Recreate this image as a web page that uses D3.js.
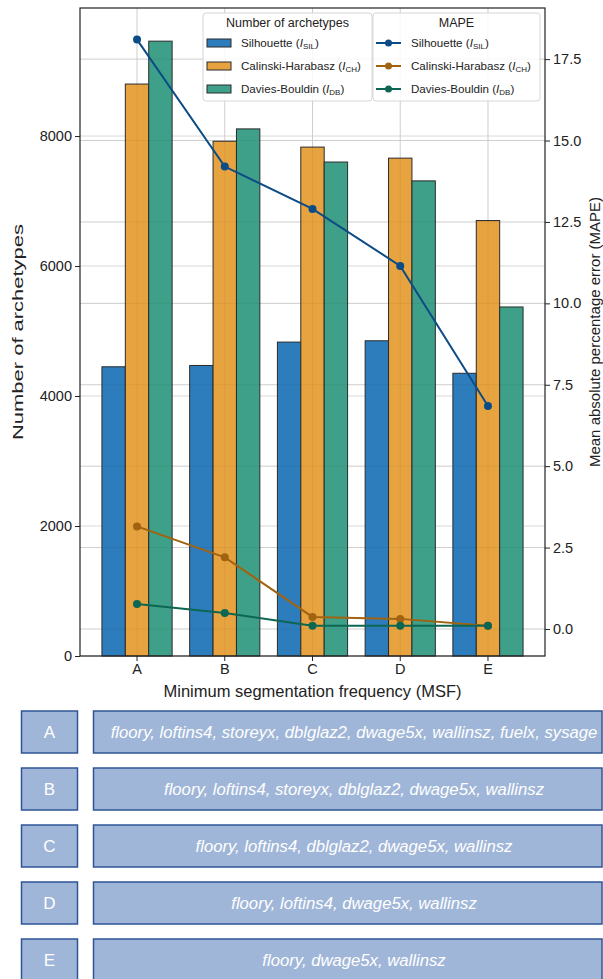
<!DOCTYPE html>
<html>
<head>
<meta charset="utf-8">
<script src="https://cdn.jsdelivr.net/npm/d3@7"></script>
<style>
  html, body { margin: 0; padding: 0; background: #fff; }
  svg { display: block; font-family: "Liberation Sans", Arial, Helvetica, sans-serif; }
</style>
</head>
<body>
<svg id="chart" width="603" height="979"></svg>
<script>
// Minimum segmentation frequency levels
const categories = ["A", "B", "C", "D", "E"];

// Number of archetypes per clustering index
const archSIL = [4450, 4470, 4830, 4850, 4350];
const archCH  = [8800, 7920, 7830, 7660, 6700];
const archDB  = [9460, 8110, 7600, 7310, 5370];

// Mean absolute percentage error per clustering index
const mapeSIL = [18.1, 14.2, 12.9, 11.15, 6.85];
const mapeCH  = [3.15, 2.2, 0.37, 0.31, 0.1];
const mapeDB  = [0.77, 0.49, 0.1, 0.1, 0.1];

const leftTicks  = [0, 2000, 4000, 6000, 8000];
const rightTicks = [0, 2.5, 5, 7.5, 10, 12.5, 15, 17.5];

// Variable sets retained at each level
const varSets = [
  "floory, loftins4, storeyx, dblglaz2, dwage5x, wallinsz, fuelx, sysage",
  "floory, loftins4, storeyx, dblglaz2, dwage5x, wallinsz",
  "floory, loftins4, dblglaz2, dwage5x, wallinsz",
  "floory, loftins4, dwage5x, wallinsz",
  "floory, dwage5x, wallinsz"
];

const seriesKeys = ["SIL", "CH", "DB"];
const seriesNames = { SIL: "Silhouette", CH: "Calinski-Harabasz", DB: "Davies-Bouldin" };
const barColor  = { SIL: "#2d7dbc", CH: "#e7a33f", DB: "#3ea088" };
const lineColor = { SIL: "#0b4c86", CH: "#a1630f", DB: "#0c6652" };
const archData = { SIL: archSIL, CH: archCH, DB: archDB };
const mapeData = { SIL: mapeSIL, CH: mapeCH, DB: mapeDB };

const svg = d3.select("#chart");
const plot = { left: 80, right: 545, top: 8, bottom: 656 };

const x = d3.scaleBand().domain(categories)
  .range([plot.left, plot.right]).paddingInner(0).paddingOuter(0.15);
const xSub = d3.scaleBand().domain(seriesKeys)
  .range([x.bandwidth() * 0.1, x.bandwidth() * 0.9]);
const yL = d3.scaleLinear().domain([0, 9970]).range([plot.bottom, plot.top]);
const yR = d3.scaleLinear().domain([-0.83, 19.07]).range([plot.bottom, plot.top]);
const cx = c => x(c) + x.bandwidth() / 2;

// Grid
const grid = svg.append("g").attr("stroke", "#d9d9d9").attr("stroke-width", 1);
categories.forEach(c => grid.append("line")
  .attr("x1", cx(c)).attr("x2", cx(c)).attr("y1", plot.top).attr("y2", plot.bottom));
leftTicks.forEach(t => grid.append("line")
  .attr("x1", plot.left).attr("x2", plot.right).attr("y1", yL(t)).attr("y2", yL(t)));
rightTicks.forEach(t => grid.append("line")
  .attr("x1", plot.left).attr("x2", plot.right).attr("y1", yR(t)).attr("y2", yR(t)));

// Bars
const bars = svg.append("g");
seriesKeys.forEach(k => {
  bars.selectAll(null).data(categories).enter().append("rect")
    .attr("x", c => x(c) + xSub(k))
    .attr("width", xSub.bandwidth())
    .attr("y", (c, i) => yL(archData[k][i]))
    .attr("height", (c, i) => yL(0) - yL(archData[k][i]))
    .attr("fill", barColor[k])
    .attr("stroke", "#2b2b2b").attr("stroke-width", 1);
});

// Grid lines faintly visible through the bars
const gridOver = svg.append("g").attr("stroke", "#000").attr("stroke-opacity", 0.05).attr("stroke-width", 1);
categories.forEach(c => gridOver.append("line")
  .attr("x1", cx(c)).attr("x2", cx(c)).attr("y1", plot.top).attr("y2", plot.bottom));
rightTicks.forEach(t => gridOver.append("line")
  .attr("x1", plot.left).attr("x2", plot.right).attr("y1", yR(t)).attr("y2", yR(t)));

// MAPE lines
const lineGen = d3.line().x(d => cx(d.c)).y(d => yR(d.v));
seriesKeys.forEach(k => {
  const pts = categories.map((c, i) => ({ c, v: mapeData[k][i] }));
  svg.append("path").datum(pts).attr("d", lineGen)
    .attr("fill", "none").attr("stroke", lineColor[k]).attr("stroke-width", 2);
  svg.selectAll(null).data(pts).enter().append("circle")
    .attr("cx", d => cx(d.c)).attr("cy", d => yR(d.v)).attr("r", 4)
    .attr("fill", lineColor[k]);
});

// Frame
svg.append("rect").attr("x", plot.left).attr("y", plot.top)
  .attr("width", plot.right - plot.left).attr("height", plot.bottom - plot.top)
  .attr("fill", "none").attr("stroke", "#222").attr("stroke-width", 1.2);

// Axes
const axL = svg.append("g").attr("transform", `translate(${plot.left},0)`)
  .call(d3.axisLeft(yL).tickValues(leftTicks).tickFormat(d3.format("d")).tickSize(5).tickPadding(3));
const axR = svg.append("g").attr("transform", `translate(${plot.right},0)`)
  .call(d3.axisRight(yR).tickValues(rightTicks).tickFormat(d3.format(".1f")).tickSize(5).tickPadding(3));
const axB = svg.append("g").attr("transform", `translate(0,${plot.bottom})`)
  .call(d3.axisBottom(x).tickSize(5).tickPadding(3));
[axL, axR, axB].forEach(a => {
  a.select(".domain").remove();
  a.selectAll("line").attr("stroke", "#222");
  a.selectAll("text").attr("font-size", 14.5).attr("fill", "#222")
    .attr("font-family", "Liberation Sans, Arial, sans-serif");
});

// Axis titles
svg.append("text").attr("x", (plot.left + plot.right) / 2).attr("y", 697)
  .attr("text-anchor", "middle").attr("font-size", 16.5).attr("fill", "#222")
  .text("Minimum segmentation frequency (MSF)");
svg.append("text").attr("transform", `translate(23,${(plot.top + plot.bottom) / 2}) rotate(-90)`)
  .attr("text-anchor", "middle").attr("font-size", 15.5).attr("fill", "#222")
  .attr("textLength", 216).attr("lengthAdjust", "spacingAndGlyphs")
  .text("Number of archetypes");
svg.append("text").attr("transform", `translate(600,${(plot.top + plot.bottom) / 2}) rotate(-90)`)
  .attr("text-anchor", "middle").attr("font-size", 15).attr("fill", "#222")
  .text("Mean absolute percentage error (MAPE)");

// Legends
function labelWithIndex(sel, k) {
  sel.append("tspan").text(seriesNames[k] + " (");
  sel.append("tspan").attr("font-style", "italic").text("I");
  sel.append("tspan").attr("font-size", 8).attr("dy", 2).text(k);
  sel.append("tspan").attr("dy", -2).text(")");
}
function legendBox(x0, w, title) {
  const g = svg.append("g");
  g.append("rect").attr("x", x0).attr("y", 13).attr("width", w).attr("height", 88)
    .attr("rx", 3).attr("fill", "#fff").attr("fill-opacity", 0.85)
    .attr("stroke", "#d6d6d6");
  g.append("text").attr("x", x0 + w / 2).attr("y", 27).attr("text-anchor", "middle")
    .attr("font-size", 12.5).attr("fill", "#222").text(title);
  return g;
}
const rowY = [43, 66, 89];
const lg1 = legendBox(203, 169, "Number of archetypes");
seriesKeys.forEach((k, i) => {
  lg1.append("rect").attr("x", 207).attr("y", rowY[i] - 4).attr("width", 24).attr("height", 8)
    .attr("fill", barColor[k]).attr("stroke", "#2b2b2b").attr("stroke-width", 1);
  const t = lg1.append("text").attr("x", 241).attr("y", rowY[i] + 4)
    .attr("font-size", 11.6).attr("fill", "#222");
  labelWithIndex(t, k);
});
const lg2 = legendBox(373, 167, "MAPE");
seriesKeys.forEach((k, i) => {
  lg2.append("line").attr("x1", 376).attr("x2", 401).attr("y1", rowY[i]).attr("y2", rowY[i])
    .attr("stroke", lineColor[k]).attr("stroke-width", 2);
  lg2.append("circle").attr("cx", 388.5).attr("cy", rowY[i]).attr("r", 3.5).attr("fill", lineColor[k]);
  const t = lg2.append("text").attr("x", 411).attr("y", rowY[i] + 4)
    .attr("font-size", 11.6).attr("fill", "#222");
  labelWithIndex(t, k);
});

// Variable-set boxes under the chart
const boxY = d3.scaleBand().domain(categories).range([711, 981]).paddingInner(15 / 57).paddingOuter(0);
const boxes = svg.append("g");
categories.forEach((c, i) => {
  const y0 = boxY(c), h = boxY.bandwidth();
  boxes.append("rect").attr("x", 21.5).attr("y", y0).attr("width", 56).attr("height", h)
    .attr("fill", "#a0b6d8").attr("stroke", "#2f5597").attr("stroke-width", 1.5);
  boxes.append("text").attr("x", 49.5).attr("y", y0 + h / 2 + 6).attr("text-anchor", "middle")
    .attr("font-size", 17).attr("fill", "#fff").text(c);
  boxes.append("rect").attr("x", 93.5).attr("y", y0).attr("width", 508.5).attr("height", h)
    .attr("fill", "#a0b6d8").attr("stroke", "#2f5597").attr("stroke-width", 1.5);
  boxes.append("text").attr("x", 354).attr("y", y0 + h / 2 + 5.5).attr("text-anchor", "middle")
    .attr("font-size", 16.7).attr("font-style", "italic").attr("fill", "#fff").text(varSets[i]);
});
</script>
</body>
</html>
